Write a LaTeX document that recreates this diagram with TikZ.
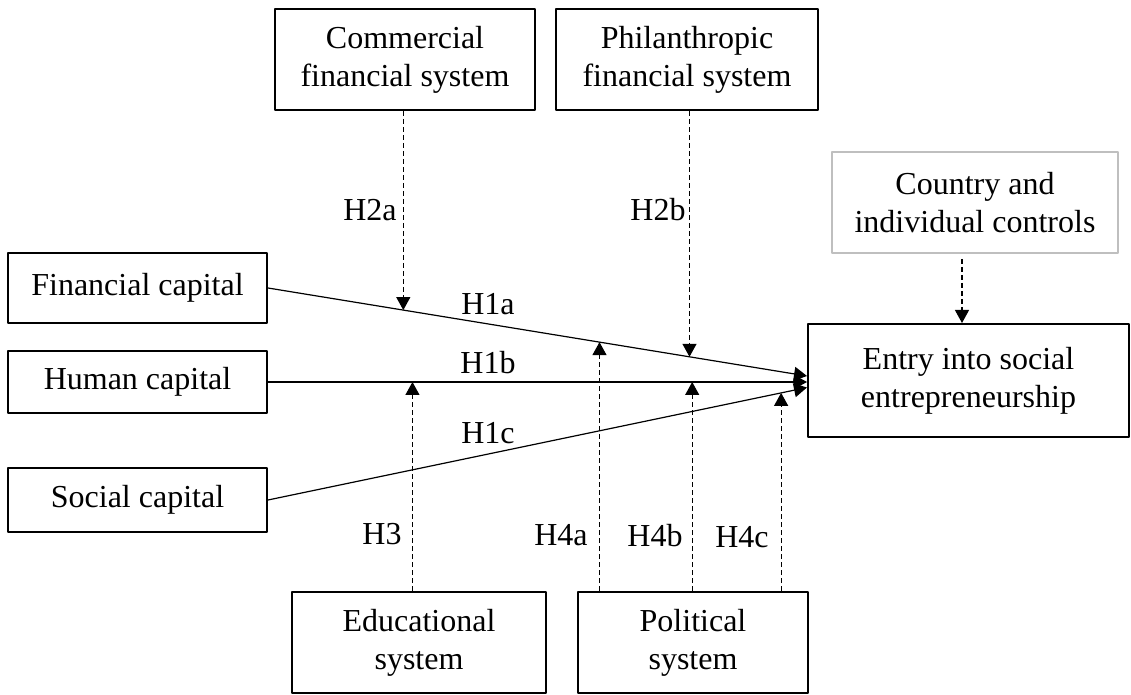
\documentclass[tikz,border=0pt]{standalone}
\usepackage{fontspec}
\setmainfont{Liberation Serif}
\usetikzlibrary{arrows.meta}
\definecolor{ctrlgray}{RGB}{191,191,191}

\begin{document}
\begin{tikzpicture}[x=0.5pt, y=-0.5pt, font=\fontsize{16}{19}\selectfont, line join=round,
	>={Triangle[length=6.5pt,width=7pt]},
	box/.style={draw, line width=1pt, align=center, inner sep=2pt},
	eff/.style={->, line width=0.6pt},
	mod/.style={->, line width=0.6pt, dash pattern=on 2.5pt off 1.5pt}]
	\useasboundingbox (0,0) rectangle (1131,695);
	% blocks
	\node[box, minimum width=129.5pt, minimum height=35pt] (fin) at (137.5,288) {Financial capital};
	\node[box, minimum width=129.5pt, minimum height=31pt] (hum) at (137.5,382) {Human capital};
	\node[box, minimum width=129.5pt, minimum height=32pt] (soc) at (137.5,500) {Social capital};
	\node[box, minimum width=130pt, minimum height=50.5pt] (com) at (405,59.5) {Commercial\\financial system};
	\node[box, minimum width=131pt, minimum height=50.5pt] (phi) at (687,59.5) {Philanthropic\\financial system};
	\node[box, draw=ctrlgray, minimum width=143pt, minimum height=50.5pt] (ctrl) at (975,202.5) {Country and\\individual controls};
	\node[box, minimum width=160.5pt, minimum height=56.5pt] (entry) at (968.5,380.5) {Entry into social\\entrepreneurship};
	\node[box, minimum width=127pt, minimum height=50.5pt] (edu) at (419,642.5) {Educational\\system};
	\node[box, minimum width=115pt, minimum height=50.5pt] (pol) at (693,642.5) {Political\\system};
	% direct effects
	\draw[eff] (fin.east) -- coordinate[pos=0.251] (a2a) coordinate[pos=0.615] (a4a) coordinate[pos=0.782] (a2b) ([yshift=2.25pt]entry.west);
	\draw[eff] (hum.east) -- coordinate[pos=0.268] (a3) coordinate[pos=0.787] (a4b) (hum.east -| entry.west);
	\draw[eff] (soc.east) -- coordinate[pos=0.952] (a4c) ([yshift=-3.5pt]entry.west);
	% moderators
	\draw[mod] (com.south -| a2a) -- (a2a);
	\draw[mod] (phi.south -| a2b) -- (a2b);
	\draw[mod] (edu.north -| a3) -- (a3);
	\draw[mod] (pol.north -| a4a) -- (a4a);
	\draw[mod] (pol.north -| a4b) -- (a4b);
	\draw[mod] (pol.north -| a4c) -- (a4c);
	\draw[mod, shorten <=2.5pt] ([xshift=-6.5pt]ctrl.south) -- ([xshift=-6.5pt]ctrl.south |- entry.north);
	% hypotheses
	\node (l1a) at (488,304) {H1a};
	\node (l1b) at (488,363) {H1b};
	\node (l1c) at (488,433) {H1c};
	\node (l2a) at (370,210) {H2a};
	\node (l2b) at (658,210) {H2b};
	\node (l3) at (382,534) {H3};
	\node (l4a) at (561,535) {H4a};
	\node (l4b) at (655,536) {H4b};
	\node (l4c) at (742,537) {H4c};
\end{tikzpicture}
\end{document}
